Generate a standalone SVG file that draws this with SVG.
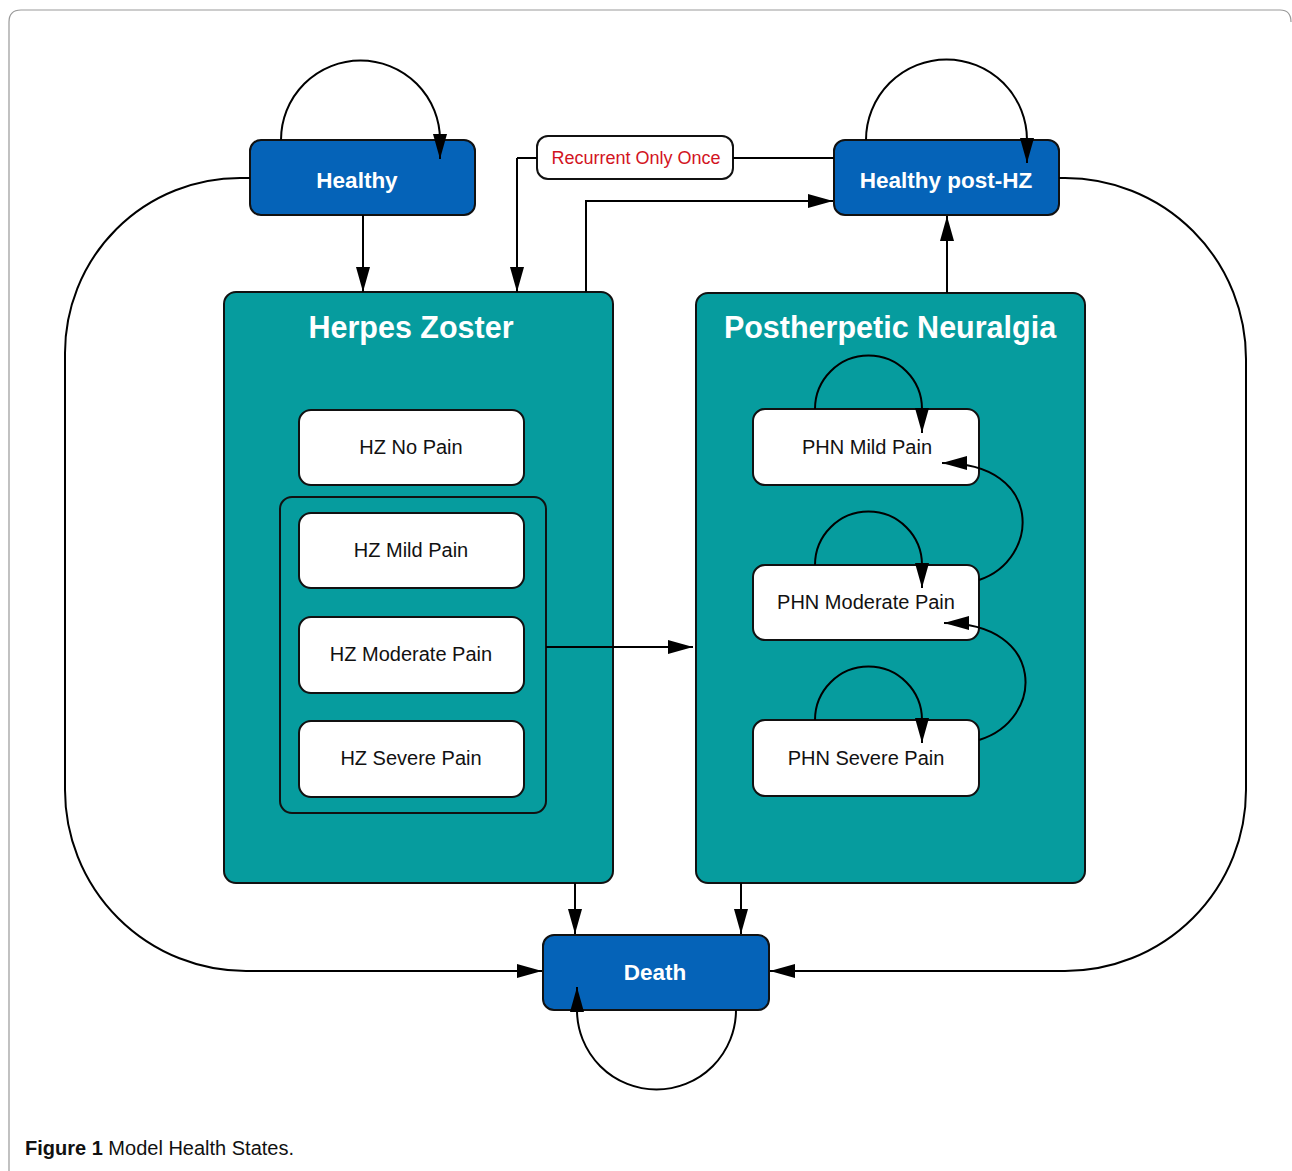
<svg xmlns="http://www.w3.org/2000/svg" width="1292" height="1171" viewBox="0 0 1292 1171">
<defs>
<marker id="ah" markerUnits="userSpaceOnUse" markerWidth="26" markerHeight="16" refX="25" refY="7" orient="auto">
<path d="M0,0 L25,7 L0,14 z" fill="#000"/>
</marker>
<style>
.blue{fill:#0563b8;stroke:#111;stroke-width:2}
.teal{fill:#069c9e;stroke:#111;stroke-width:2}
.white{fill:#fff;stroke:#111;stroke-width:2}
.bt{font-family:"Liberation Sans",Arial,sans-serif;font-weight:bold;fill:#fff;text-anchor:middle}
.nt{font-family:"Liberation Sans",Arial,sans-serif;font-size:20px;fill:#111;text-anchor:middle}
.ln{fill:none;stroke:#000;stroke-width:2}
.arr{fill:none;stroke:#000;stroke-width:2;marker-end:url(#ah)}
</style>
</defs>
<rect width="1292" height="1171" fill="#fff"/>
<path d="M9,1171 L9,22 Q9,10 21,10 L1280,10 Q1291,10 1291,22" fill="none" stroke="#999" stroke-width="1.2"/>

<g id="herpes-zoster">
<rect class="teal" x="224" y="292" width="389" height="591" rx="12"/>
<text class="bt" x="411" y="338" font-size="30.5">Herpes Zoster</text>
</g>
<g id="postherpetic-neuralgia">
<rect class="teal" x="696" y="293" width="389" height="590" rx="12"/>
<text class="bt" x="890" y="338" font-size="30.5">Postherpetic Neuralgia</text>
</g>

<g id="healthy">
<rect class="blue" x="250" y="140" width="225" height="75" rx="11"/>
<text class="bt" x="357" y="188" font-size="22.5">Healthy</text>
</g>
<g id="healthy-post-hz">
<rect class="blue" x="834" y="140" width="225" height="75" rx="11"/>
<text class="bt" x="946" y="188" font-size="22.5">Healthy post-HZ</text>
</g>
<g id="recurrent-only-once">
<rect class="white" x="537" y="136" width="196" height="43" rx="11"/>
<text x="636" y="164" font-family="Liberation Sans,Arial,sans-serif" font-size="18" fill="#d2141e" text-anchor="middle">Recurrent Only Once</text>
</g>
<g id="death">
<rect class="blue" x="543" y="935" width="226" height="75" rx="11"/>
<text class="bt" x="655" y="980" font-size="22.5">Death</text>
</g>

<g id="hz-no-pain">
<rect class="white" x="299" y="410" width="225" height="75" rx="12"/>
<text class="nt" x="411" y="454">HZ No Pain</text>
</g>
<g id="hz-pain-group">
<rect class="teal" x="280" y="497" width="266" height="316" rx="12"/>
</g>
<g id="hz-mild-pain">
<rect class="white" x="299" y="513" width="225" height="75" rx="12"/>
<text class="nt" x="411" y="557">HZ Mild Pain</text>
</g>
<g id="hz-moderate-pain">
<rect class="white" x="299" y="617" width="225" height="76" rx="12"/>
<text class="nt" x="411" y="661">HZ Moderate Pain</text>
</g>
<g id="hz-severe-pain">
<rect class="white" x="299" y="721" width="225" height="76" rx="12"/>
<text class="nt" x="411" y="765">HZ Severe Pain</text>
</g>

<g id="phn-mild-pain">
<rect class="white" x="753" y="409" width="226" height="76" rx="12"/>
<text class="nt" x="867" y="454">PHN Mild Pain</text>
</g>
<g id="phn-moderate-pain">
<rect class="white" x="753" y="565" width="226" height="75" rx="12"/>
<text class="nt" x="866" y="609">PHN Moderate Pain</text>
</g>
<g id="phn-severe-pain">
<rect class="white" x="753" y="720" width="226" height="76" rx="12"/>
<text class="nt" x="866" y="765">PHN Severe Pain</text>
</g>

<g id="connectors">
<path class="arr" d="M281,140 A79.5,79.5 0 0 1 440,140 L440,159"/>
<path class="arr" d="M866,140 A80.5,80.5 0 0 1 1027,140 L1027,163"/>
<path class="arr" d="M363,215 L363,292"/>
<path class="ln" d="M537,158 L517,158"/>
<path class="arr" d="M517,158 L517,292"/>
<path class="ln" d="M733,158 L834,158"/>
<path class="arr" d="M586,292 L586,201 L833,201"/>
<path class="arr" d="M947,293 L947,216"/>
<path class="arr" d="M250,178 L240,178 A175,175 0 0 0 65,353 L65,790 A181,181 0 0 0 246,971 L542,971"/>
<path class="arr" d="M1059,178 L1065,178 A181,181 0 0 1 1246,359 L1246,790 A181,181 0 0 1 1065,971 L770,971"/>
<path class="arr" d="M575,883 L575,934"/>
<path class="arr" d="M741,883 L741,934"/>
<path class="arr" d="M736,1010 A79.5,79.5 0 0 1 577,1010 L577,987"/>
<path class="arr" d="M546,647 L693,647"/>
<path class="arr" d="M815,409 A53.5,53.5 0 0 1 922,409 L922,433"/>
<path class="arr" d="M815,565 A53.5,53.5 0 0 1 922,565 L922,588"/>
<path class="arr" d="M815,720 A53.5,53.5 0 0 1 922,720 L922,743"/>
<path class="arr" d="M979,580 C1040,560 1045,463 942,463"/>
<path class="arr" d="M979,740 C1045,720 1047,623 944,623"/>
</g>

<g id="caption">
<text x="25" y="1155" font-family="Liberation Sans,Arial,sans-serif" font-size="20" fill="#111"><tspan font-weight="bold">Figure 1</tspan> Model Health States.</text>
</g>
</svg>
